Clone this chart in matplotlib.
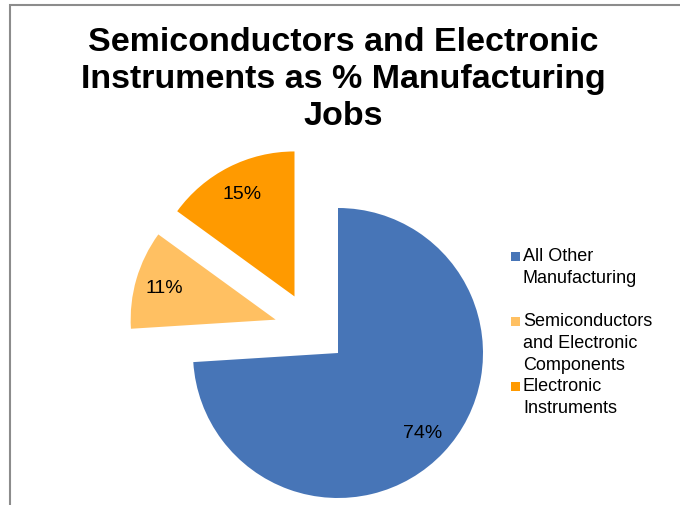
import matplotlib
matplotlib.use("Agg")
import matplotlib.pyplot as plt
from matplotlib.patches import Rectangle

plt.rcParams['font.family'] = ['Liberation Sans', 'DejaVu Sans']

categories = ["All Other\nManufacturing",
              "Semiconductors\nand Electronic\nComponents",
              "Electronic\nInstruments"]
shares = [74, 11, 15]
colors = ["#4775B7", "#FFC062", "#FF9A00"]
# pull-out offsets for the two electronics slices (in pie radii)
offsets = [(0.0, 0.0), (-0.43, 0.23), (-0.30, 0.39)]

W, H = 680, 506
fig = plt.figure(figsize=(W / 100, H / 100), dpi=100)
ax = fig.add_axes([0, 0, 1, 1])

# pie centre and radius in pixels
cx, cy, r_px = 338, 354, 145

wedges, _, pcts = ax.pie(shares, colors=colors, startangle=90, counterclock=False,
                         autopct=lambda p: f"{p:.0f}%", pctdistance=0.8,
                         radius=1, frame=True,
                         textprops=dict(fontsize=14, color="black"))
ax.set_xlim(-cx / r_px, (W - cx) / r_px)
ax.set_ylim(-(H - cy) / r_px, cy / r_px)
ax.set_aspect('auto')
ax.axis('off')

for w, t, (dx, dy) in zip(wedges, pcts, offsets):
    w.set_center((dx, dy))
    x, y = t.get_position()
    t.set_position((x + dx, y + dy))

# title
fig.text(343 / W, 1 - 27 / H,
         "Semiconductors and Electronic\nInstruments as % Manufacturing\nJobs",
         ha='center', va='top', fontsize=24.5, fontweight='bold', linespacing=1.25)

# legend, drawn by hand to keep Excel's uneven spacing
legend_top = [257, 322, 387]
for lab, col, ty in zip(categories, colors, legend_top):
    fig.patches.append(Rectangle((511 / W, 1 - (ty + 4.5) / H), 9 / W, 9 / H,
                                 transform=fig.transFigure, facecolor=col,
                                 edgecolor='none'))
    fig.text(523 / W, 1 - (ty - 9) / H, lab, ha='left', va='top', fontsize=13,
             linespacing=1.4)

# chart area border (runs off the right and bottom edges)
fig.patches.append(Rectangle((10 / W, -0.1), 1.1, 1 - 6 / H + 0.1,
                             transform=fig.transFigure, facecolor='none',
                             edgecolor='#8C8C8C', linewidth=1.5))

fig.savefig("out.png", dpi=100)
